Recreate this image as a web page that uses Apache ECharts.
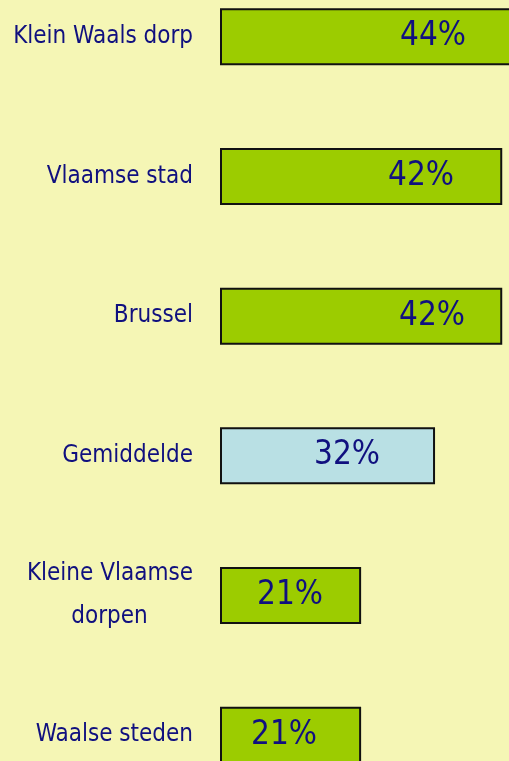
<!DOCTYPE html>
<html>
<head>
<meta charset="utf-8">
<script src="https://cdn.jsdelivr.net/npm/echarts@6/dist/echarts.min.js"></script>
<style>
  html, body { margin: 0; padding: 0; background: #f5f6b5; }
  #chart { width: 509px; height: 761px; }
</style>
</head>
<body>
<div id="chart"></div>
<script>
// data, top to bottom
var categories = ["Klein Waals dorp", "Vlaamse stad", "Brussel", "Gemiddelde", "Kleine Vlaamse dorpen", "Waalse steden"];
var values = [44, 42, 42, 32, 21, 21];
var highlight = [false, false, false, true, false, false];

// where the % label sits inside each bar (px from bar start)
var labelAt = [213, 201, 212, 127, 70, 64];

var FONT = "'Liberation Sans Narrow', 'DejaVu Sans Condensed', 'Arial Narrow', sans-serif";
var NAVY = "#10107f";
var CAT_SIZE = 24;

// measure the first line so the second one can be centred under it
var ctx = document.createElement("canvas").getContext("2d");
ctx.font = CAT_SIZE + "px " + FONT;
var firstLineW = Math.ceil(ctx.measureText("Kleine Vlaamse").width);

var chart = echarts.init(document.getElementById("chart"), null, { renderer: "canvas" });

var barData = values.map(function (v, i) {
  return {
    value: v,
    itemStyle: { color: highlight[i] ? "#b9e0e4" : "#9ccc00" },
    label: { position: [labelAt[i], "50%"] }
  };
});

chart.setOption({
  animation: false,
  backgroundColor: "#f5f6b5",
  grid: { left: 220, top: -33, width: 336, height: 838, outerBoundsMode: "none", containLabel: false },
  xAxis: {
    type: "value",
    min: 0,
    max: 50,
    show: false
  },
  yAxis: {
    type: "category",
    data: categories,
    inverse: true,
    axisLine: { show: false },
    axisTick: { show: false },
    splitLine: { show: false },
    axisLabel: {
      margin: 27,
      color: NAVY,
      fontFamily: FONT,
      fontSize: CAT_SIZE,
      formatter: function (name) {
        if (name === "Kleine Vlaamse dorpen") {
          return "{a|Kleine Vlaamse}\n{b|dorpen}";
        }
        return name;
      },
      rich: {
        a: { color: NAVY, fontFamily: FONT, fontSize: CAT_SIZE, lineHeight: 43 },
        b: { color: NAVY, fontFamily: FONT, fontSize: CAT_SIZE, lineHeight: 43, width: firstLineW, align: "center" }
      }
    }
  },
  series: [{
    type: "bar",
    data: barData,
    barWidth: 57,
    itemStyle: { borderColor: "#111", borderWidth: 2 },
    label: {
      show: true,
      align: "center",
      verticalAlign: "middle",
      color: NAVY,
      fontFamily: FONT,
      fontSize: 33,
      formatter: "{c}%"
    }
  }]
});
</script>
</body>
</html>
